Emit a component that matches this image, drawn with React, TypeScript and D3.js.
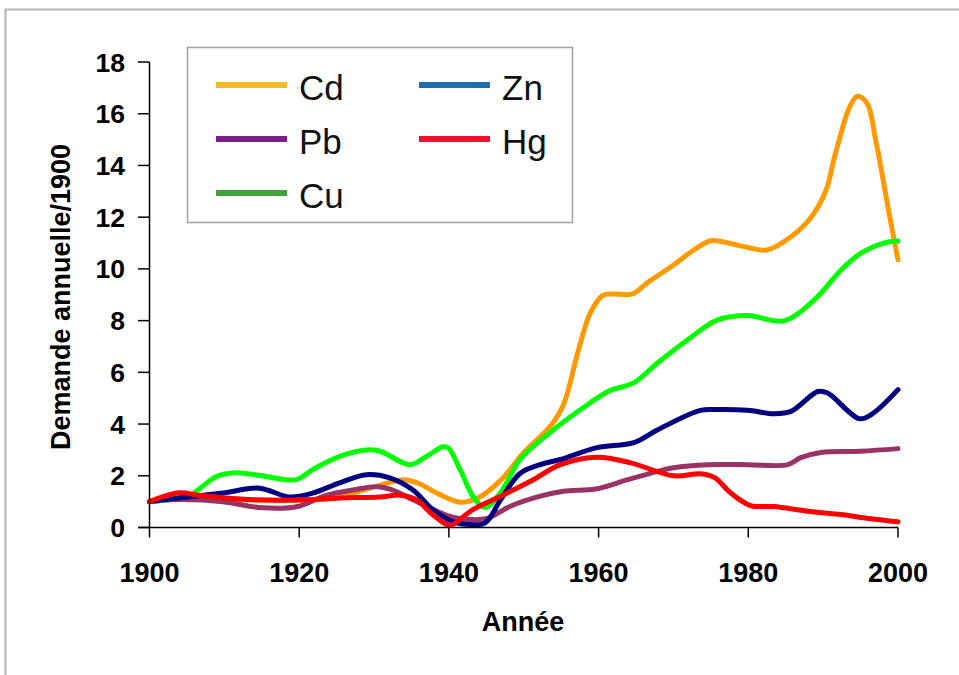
import React from "react";
import * as d3 from "d3";

const W = 959;
const H = 675;

const yTicks = [0, 2, 4, 6, 8, 10, 12, 14, 16, 18];
const xTicks = [1900, 1920, 1940, 1960, 1980, 2000];

const cdYears = [1900, 1903, 1906, 1910, 1915, 1920, 1925, 1928, 1931, 1934, 1936, 1938.8, 1941.5, 1944, 1947, 1950, 1953.5, 1955.3, 1957.2, 1958.9, 1960.6, 1962, 1964.5, 1966.5, 1970, 1972.7, 1975, 1976.7, 1979.9, 1982.5, 1985.7, 1988.4, 1990.4, 1991.4, 1992.4, 1993.3, 1994.4, 1995, 1996, 1997, 1997.7, 1998.8, 2000];
const cdValues = [1.0, 1.15, 1.15, 1.1, 1.05, 1.05, 1.15, 1.4, 1.65, 1.85, 1.7, 1.27, 0.98, 1.16, 1.85, 2.9, 3.9, 4.75, 6.75, 8.3, 8.98, 9.03, 9.03, 9.46, 10.15, 10.73, 11.09, 11.04, 10.83, 10.73, 11.24, 12.0, 13.05, 14.2, 15.25, 16.1, 16.65, 16.65, 16.33, 15.0, 13.95, 12.16, 10.35];

const cuYears = [1900, 1903, 1905.4, 1909, 1911.6, 1915, 1919.6, 1921.8, 1925.4, 1929, 1930.8, 1934.8, 1937, 1939.2, 1939.9, 1941.5, 1943.2, 1944.8, 1946.9, 1949.5, 1953.5, 1957.6, 1961.2, 1964.7, 1967.9, 1971.9, 1975.9, 1979.9, 1984.7, 1988.8, 1992.4, 1995, 1998.1, 2000];
const cuValues = [1.0, 1.1, 1.25, 1.98, 2.12, 2.0, 1.85, 2.24, 2.75, 3.0, 2.95, 2.43, 2.75, 3.12, 3.08, 2.24, 1.21, 0.77, 1.35, 2.63, 3.67, 4.56, 5.25, 5.6, 6.37, 7.26, 8.03, 8.2, 7.99, 8.8, 9.96, 10.6, 11.0, 11.08];

const znYears = [1900, 1904, 1909.8, 1914.7, 1918.7, 1921.8, 1925.4, 1929, 1932.1, 1935.2, 1937.9, 1940.6, 1942.4, 1944.8, 1946.9, 1949.5, 1952.2, 1954.9, 1959.8, 1964.7, 1967.9, 1973.6, 1975.9, 1979.9, 1983.4, 1985.7, 1989.3, 1990.6, 1994.8, 1996.4, 2000];
const znValues = [1.0, 1.14, 1.33, 1.52, 1.18, 1.33, 1.73, 2.04, 1.92, 1.45, 0.68, 0.22, 0.13, 0.17, 1.07, 2.09, 2.43, 2.63, 3.09, 3.28, 3.78, 4.53, 4.56, 4.53, 4.4, 4.49, 5.26, 5.2, 4.21, 4.36, 5.33];

const pbYears = [1900, 1904, 1909.8, 1915.1, 1919.6, 1923.7, 1927.2, 1930.4, 1932.5, 1935.2, 1938.8, 1940.6, 1942.8, 1945.1, 1948.2, 1952.2, 1955.3, 1959.8, 1963.9, 1967.9, 1970, 1974.6, 1979.9, 1985.3, 1987, 1989.7, 1995, 2000];
const pbValues = [1.0, 1.08, 1.0, 0.76, 0.8, 1.25, 1.45, 1.58, 1.45, 1.07, 0.58, 0.39, 0.31, 0.35, 0.82, 1.21, 1.4, 1.5, 1.85, 2.17, 2.31, 2.43, 2.43, 2.43, 2.7, 2.9, 2.95, 3.05];

const hgYears = [1900, 1904, 1906.3, 1909.8, 1914.3, 1921, 1925.4, 1930.8, 1933.5, 1935.7, 1937.5, 1939.8, 1940.4, 1943.2, 1946.9, 1950.9, 1954.9, 1959.8, 1964.3, 1970, 1973.6, 1975.5, 1977.6, 1980.3, 1983.4, 1987.9, 1992.4, 1995, 2000];
const hgValues = [1.0, 1.34, 1.26, 1.15, 1.07, 1.07, 1.14, 1.18, 1.25, 1.07, 0.58, 0.1, 0.1, 0.69, 1.21, 1.79, 2.43, 2.72, 2.5, 2.0, 2.08, 1.93, 1.35, 0.85, 0.81, 0.63, 0.5, 0.39, 0.22];

const seriesNames = ["Cd", "Pb", "Cu", "Zn", "Hg"];
const lineColors: Record<string, string> = { Cd: "#ff9900", Pb: "#993366", Cu: "#00ff00", Zn: "#000080", Hg: "#ff0000" };
const legendColors: Record<string, string> = { Cd: "#f5b921", Pb: "#7b1f8a", Cu: "#40a538", Zn: "#1f6fb0", Hg: "#e5132b" };

const seriesData: Record<string, [number[], number[]]> = {
  Cd: [cdYears, cdValues],
  Pb: [pbYears, pbValues],
  Cu: [cuYears, cuValues],
  Zn: [znYears, znValues],
  Hg: [hgYears, hgValues],
};

const legendItems = [
  { name: "Cd", col: 0, row: 0 },
  { name: "Zn", col: 1, row: 0 },
  { name: "Pb", col: 0, row: 1 },
  { name: "Hg", col: 1, row: 1 },
  { name: "Cu", col: 0, row: 2 },
];

export default function App() {
  const x = d3.scaleLinear().domain([1900, 2000]).range([149.5, 898]);
  const y = d3.scaleLinear().domain([0, 18]).range([527.5, 62]);
  const line = d3
    .line<[number, number]>()
    .x((d) => x(d[0]))
    .y((d) => y(d[1]))
    .curve(d3.curveCatmullRom.alpha(0.5));

  const font = "'Liberation Sans', Arial, sans-serif";

  return (
    <svg
      width={W}
      height={H}
      style={{ position: "absolute", left: 0, top: 0, background: "#fff" }}
      fontFamily={font}
    >
      <rect x={0} y={0} width={W} height={H} fill="#fff" />
      <rect x={5.5} y={9.5} width={W + 20} height={H + 20} fill="none" stroke="#b4b4b4" strokeWidth={2} />

      {/* series */}
      {seriesNames.map((n) => {
        const [ys, vs] = seriesData[n];
        const pts = ys.map((yr, i) => [yr, vs[i]] as [number, number]);
        return (
          <path
            key={n}
            d={line(pts) || ""}
            fill="none"
            stroke={lineColors[n]}
            strokeWidth={5}
            strokeLinejoin="round"
            strokeLinecap="round"
          />
        );
      })}

      {/* axes */}
      <line x1={x(1900)} x2={x(1900)} y1={y(18)} y2={y(0)} stroke="#000" strokeWidth={1.5} />
      <line x1={138} x2={x(2000)} y1={y(0)} y2={y(0)} stroke="#000" strokeWidth={1.5} />
      {yTicks.map((t) => (
        <g key={"y" + t}>
          <line x1={138} x2={x(1900)} y1={y(t)} y2={y(t)} stroke="#000" strokeWidth={1.5} />
          <text x={125} y={y(t) + 9.5} textAnchor="end" fontSize={26.5} fontWeight="bold" fill="#000">
            {t}
          </text>
        </g>
      ))}
      {xTicks.map((t) => (
        <g key={"x" + t}>
          <line x1={x(t)} x2={x(t)} y1={y(0)} y2={y(0) + 10} stroke="#000" strokeWidth={1.5} />
          <text x={x(t)} y={582} textAnchor="middle" fontSize={27} fontWeight="bold" fill="#000">
            {t}
          </text>
        </g>
      ))}
      <text x={523} y={631} textAnchor="middle" fontSize={27} fontWeight="bold" fill="#000">
        Année
      </text>
      <text
        transform={`translate(70,297) rotate(-90)`}
        textAnchor="middle"
        fontSize={27}
        fontWeight="bold"
        fill="#000"
      >
        Demande annuelle/1900
      </text>

      {/* legend */}
      <rect x={187.5} y={47.5} width={385} height={175} fill="#fff" stroke="#a0a0a0" strokeWidth={1.5} />
      {legendItems.map((it) => {
        const lx = it.col === 0 ? 216 : 419;
        const ly = 85 + it.row * 54;
        return (
          <g key={"l" + it.name}>
            <line x1={lx} x2={lx + 71} y1={ly} y2={ly} stroke={legendColors[it.name]} strokeWidth={6} />
            <text x={lx + 83} y={ly + 14.5} fontSize={35} fill="#111">
              {it.name}
            </text>
          </g>
        );
      })}
    </svg>
  );
}
